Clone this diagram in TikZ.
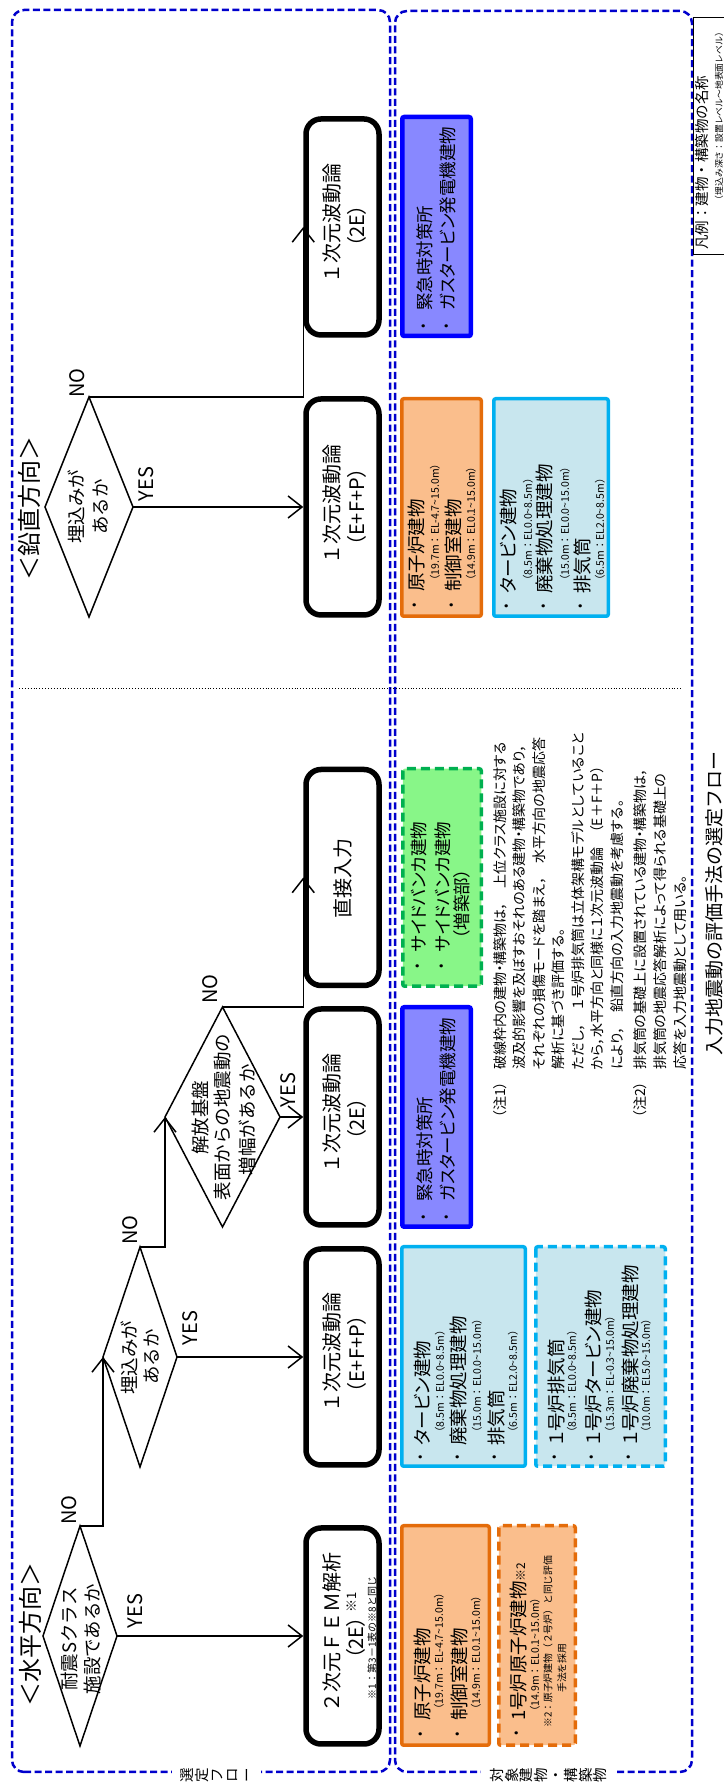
\documentclass[tikz,border=0pt]{standalone}
\usepackage{fontspec}
\setmainfont{Noto Sans CJK JP}[RawFeature=+palt]
\newfontfamily\jpmono{Noto Sans CJK JP}
\usetikzlibrary{arrows.meta,shapes.geometric}
\definecolor{frameblue}{RGB}{0,0,204}
\definecolor{orfill}{RGB}{250,190,140}
\definecolor{ordraw}{RGB}{228,108,10}
\definecolor{lbfill}{RGB}{200,230,238}
\definecolor{lbdraw}{RGB}{0,176,240}
\definecolor{bufill}{RGB}{136,136,255}
\definecolor{budraw}{RGB}{0,0,255}
\definecolor{grfill}{RGB}{136,246,136}
\definecolor{grdraw}{RGB}{0,176,80}
\newcommand{\myfs}[1]{\fontsize{#1}{#1}\selectfont}
\newcommand{\mytld}{\char"7E\relax}
\tikzset{
  outerframe/.style={draw=frameblue, line width=2.5pt, dash pattern=on 7pt off 3.5pt, rounded corners=12pt},
  flowbox/.style={draw=black, line width=5.5pt, rounded corners=15pt, minimum width=216pt, minimum height=73pt, inner sep=0pt},
  dia/.style={diamond, draw=black, line width=1.5pt, inner sep=0pt, outer sep=0pt},
  conn/.style={draw=black, line width=1.5pt, -{Straight Barb[length=14pt,width=22pt]}},
  yn/.style={inner sep=0pt, font=\myfs{20}},
  dtxt/.style={inner sep=0pt, font=\jpmono\myfs{18.5}},
  ftxt/.style={inner sep=0pt, font=\jpmono\myfs{20}},
  ftxtb/.style={inner sep=0pt, font=\myfs{20}},
  itm/.style={inner sep=0pt, anchor=west, font=\myfs{18.5}},
  itms/.style={inner sep=0pt, anchor=west, font=\myfs{17.5}},
  subt/.style={inner sep=0pt, anchor=west, font=\jpmono\myfs{10.5}},
  bul/.style={inner sep=0pt, font=\myfs{13}},
  notetxt/.style={inner sep=0pt, anchor=west, font=\myfs{14}},
  orbox/.style={fill=orfill, draw=ordraw, line width=3.5pt, rounded corners=2pt, inner sep=0pt},
  orboxd/.style={orbox, dash pattern=on 9pt off 5pt},
  lbbox/.style={fill=lbfill, draw=lbdraw, line width=3.5pt, rounded corners=2pt, inner sep=0pt},
  lbboxd/.style={lbbox, dash pattern=on 9pt off 5pt},
  bubox/.style={fill=bufill, draw=budraw, line width=4.5pt, rounded corners=2pt, inner sep=0pt},
  grbox/.style={fill=grfill, draw=grdraw, line width=3.5pt, rounded corners=2pt, inner sep=0pt, dash pattern=on 9pt off 5pt},
  framelbl/.style={fill=white, inner xsep=2pt, inner ysep=9pt, align=center, font=\fontsize{14.5}{14.8}\selectfont},
}
\begin{document}
\begin{tikzpicture}[x=1pt,y=1pt]
\useasboundingbox (0,0) rectangle (723,1786);
\begin{scope}[rotate=90, transform shape]
% outer frames
\draw[outerframe] (14,-12) rectangle (1776,-390);
\draw[outerframe] (14,-395) rectangle (1775,-692);
\node[framelbl] (lblA) at (11,-216.5) {選\\定\\フ\\ロ\\ー};
\node[framelbl] (lblB) at (11,-548.5) {対\\象\\建\\物\\・\\構\\築\\物};
% separator
\draw[dotted, line width=0.9pt] (1098,-19) -- (1098,-682);
% section titles
\node[inner sep=0pt, font=\jpmono\myfs{24}] (hsec) at (151,-30) {＜水平方向＞};
\node[inner sep=0pt, font=\jpmono\myfs{24}] (vsec) at (1277,-29) {＜鉛直方向＞};
% diamonds
\node[dia, minimum width=220pt, minimum height=74pt] (d1) at (150,-80) {};
\node[dia, minimum width=220pt, minimum height=74pt] (d2) at (429,-140) {};
\node[dia, minimum width=220pt, minimum height=115pt] (d3) at (669,-222.5) {};
\node[dia, minimum width=220pt, minimum height=88pt] (dv) at (1279,-89) {};
\node[dtxt] (d1a) at (147,-70) {耐震Sクラス};
\node[dtxt] (d1b) at (147,-92) {施設であるか};
\node[dtxt] (d2a) at (428,-129) {埋込みが};
\node[dtxt] (d2b) at (429,-152) {あるか};
\node[dtxt] (d3a) at (668,-200) {解放基盤};
\node[dtxt] (d3b) at (669,-223) {表面からの地震動の};
\node[dtxt] (d3c) at (666,-247) {増幅があるか};
\node[dtxt] (dva) at (1279,-76) {埋込みが};
\node[dtxt] (dvb) at (1279,-101) {あるか};
% flow boxes
\node[flowbox] (b1) at (150,-342.5) {};
\node[flowbox] (b2) at (429,-342.5) {};
\node[flowbox] (b3) at (669,-342.5) {};
\node[flowbox] (b4) at (908.5,-342.5) {};
\node[flowbox] (b5) at (1279,-342.5) {};
\node[flowbox] (b6) at (1559,-342.5) {};
\node[ftxt] (b1a) at (153,-332) {２次元ＦＥＭ解析};
\node[ftxtb] (b1b) at (148,-356) {（2E）};
\node[inner sep=0pt, anchor=west, font=\myfs{13}] (b1c) at (173,-352) {※1};
\node[inner sep=0pt, font=\jpmono\myfs{10}] (b1d) at (148,-372) {※1：第3－1表の※8と同じ};
\node[ftxt] (b2a) at (433,-332) {１次元波動論};
\node[ftxtb] (b2b) at (432,-357) {（E+F+P）};
\node[ftxt] (b3a) at (672,-332) {１次元波動論};
\node[ftxtb] (b3b) at (667,-357) {（2E）};
\node[ftxt] (b4a) at (907,-343) {直接入力};
\node[ftxt] (b5a) at (1281,-332) {１次元波動論};
\node[ftxtb] (b5b) at (1279,-357) {（E+F+P）};
\node[ftxt] (b6a) at (1562,-332) {１次元波動論};
\node[ftxtb] (b6b) at (1560,-357) {（2E）};
% connectors
\draw[conn] (d1.east) |- (d2.north);
\draw[conn] (d1.south) -- (b1.north);
\draw[conn] (d2.east) |- (d3.north);
\draw[conn] (d2.south) -- (b2.north);
\draw[conn] (d3.east) |- (b4.north);
\draw[conn] (d3.south) -- (b3.north);
\draw[conn] (dv.east) |- (b6.north);
\draw[conn] (dv.south) -- (b5.north);
\node[yn] (no1) at (276,-69) {NO};
\node[yn] (yes1) at (175,-135) {YES};
\node[yn] (no2) at (556,-130) {NO};
\node[yn] (yes2) at (458,-190) {YES};
\node[yn] (no3) at (797,-210) {NO};
\node[yn] (yes3) at (696,-288) {YES};
\node[yn] (nov) at (1403,-77) {NO};
\node[yn] (yesv) at (1302,-146) {YES};
% right side boxes
\node[orbox, minimum width=219.5pt, minimum height=87.5pt] (r1) at (150.5,-445.5) {};
\node[orboxd, minimum width=219.5pt, minimum height=76.5pt] (r2) at (150.5,-537) {};
\node[lbbox, minimum width=219.5pt, minimum height=123.5pt] (r3) at (429.5,-463.5) {};
\node[lbboxd, minimum width=219.5pt, minimum height=129.5pt] (r4) at (429.5,-600.5) {};
\node[bubox, minimum width=219.5pt, minimum height=68.5pt] (r5) at (669,-436.5) {};
\node[grbox, minimum width=217.5pt, minimum height=78.5pt] (r6) at (908.5,-442) {};
\node[bubox, minimum width=219pt, minimum height=68.5pt] (r7) at (1559.5,-436.5) {};
\node[orbox, minimum width=217.5pt, minimum height=79.5pt] (r8) at (1278.5,-441.5) {};
\node[lbbox, minimum width=217.5pt, minimum height=114.5pt] (r9) at (1278.5,-551) {};
% R1
\node[bul] (r1p1) at (52,-422) {•};
\node[itm] (r1t1) at (65,-422) {原子炉建物};
\node[subt] (r1s1) at (71,-439) {（19.7m：EL-4.7\mytld 15.0m）};
\node[bul] (r1p2) at (52,-459) {•};
\node[itm] (r1t2) at (65,-459) {制御室建物};
\node[subt] (r1s2) at (71,-476) {（14.9m：EL0.1\mytld 15.0m）};
% R2
\node[bul] (r2p1) at (53,-518) {•};
\node[itm] (r2t1) at (65,-518) {1号炉原子炉建物{\myfs{12}※2}};
\node[subt] (r2s1) at (69,-535) {（14.9m：EL0.1\mytld 15.0m）};
\node[inner sep=0pt, anchor=west, font=\jpmono\myfs{9.8}] (r2n1) at (58,-548) {※2：原子炉建物（２号炉）と同じ評価};
\node[inner sep=0pt, anchor=west, font=\jpmono\myfs{9.8}] (r2n2) at (93,-562) {手法を採用};
% R3
\node[bul] (r3p1) at (329,-422) {•};
\node[itm] (r3t1) at (340,-422) {タービン建物};
\node[subt] (r3s1) at (348,-440) {（8.5m：EL0.0\mytld 8.5m）};
\node[bul] (r3p2) at (329,-459) {•};
\node[itm] (r3t2) at (340,-459) {廃棄物処理建物};
\node[subt] (r3s2) at (348,-477) {（15.0m：EL0.0\mytld 15.0m）};
\node[bul] (r3p3) at (329,-496) {•};
\node[itm] (r3t3) at (340,-496) {排気筒};
\node[subt] (r3s3) at (348,-513) {（6.5m：EL2.0\mytld 8.5m）};
% R4
\node[bul] (r4p1) at (329,-556) {•};
\node[itm] (r4t1) at (340,-556) {１号炉排気筒};
\node[subt] (r4s1) at (348,-572) {（8.5m：EL0.0\mytld 8.5m）};
\node[bul] (r4p2) at (329,-593) {•};
\node[itm] (r4t2) at (340,-593) {１号炉タービン建物};
\node[subt] (r4s2) at (348,-610) {（15.3m：EL-0.3\mytld 15.0m）};
\node[bul] (r4p3) at (329,-630) {•};
\node[itm] (r4t3) at (340,-630) {１号炉廃棄物処理建物};
\node[subt] (r4s3) at (348,-646) {（10.0m：EL5.0\mytld 15.0m）};
% R5
\node[bul] (r5p1) at (569,-425) {•};
\node[itms] (r5t1) at (584,-425) {緊急時対策所};
\node[bul] (r5p2) at (569,-448) {•};
\node[itms] (r5t2) at (584,-448) {ガスタービン発電機建物};
% R6
\node[bul] (r6p1) at (820,-419) {•};
\node[itms] (r6t1) at (834,-419) {サイドバンカ建物};
\node[bul] (r6p2) at (820,-443) {•};
\node[itms] (r6t2) at (834,-443) {サイドバンカ建物};
\node[inner sep=0pt, font=\myfs{17.5}] (r6t3) at (882,-462) {（増築部）};
% R7
\node[bul] (r7p1) at (1460,-425) {•};
\node[itms] (r7t1) at (1475,-425) {緊急時対策所};
\node[bul] (r7p2) at (1460,-448) {•};
\node[itms] (r7t2) at (1475,-448) {ガスタービン発電機建物};
% R8
\node[bul] (r8p1) at (1181,-416) {•};
\node[itm] (r8t1) at (1194,-416) {原子炉建物};
\node[subt] (r8s1) at (1200,-435) {（19.7m：EL-4.7\mytld 15.0m）};
\node[bul] (r8p2) at (1181,-453) {•};
\node[itm] (r8t2) at (1194,-453) {制御室建物};
\node[subt] (r8s2) at (1200,-471) {（14.9m：EL0.1\mytld 15.0m）};
% R9
\node[bul] (r9p1) at (1180,-508) {•};
\node[itm] (r9t1) at (1192,-508) {タービン建物};
\node[subt] (r9s1) at (1200,-528) {（8.5m：EL0.0\mytld 8.5m）};
\node[bul] (r9p2) at (1180,-545) {•};
\node[itm] (r9t2) at (1192,-545) {廃棄物処理建物};
\node[subt] (r9s2) at (1200,-565) {（15.0m：EL0.0\mytld 15.0m）};
\node[bul] (r9p3) at (1180,-582) {•};
\node[itm] (r9t3) at (1192,-582) {排気筒};
\node[subt] (r9s3) at (1200,-600) {（6.5m：EL2.0\mytld 8.5m）};
% notes
\node[notetxt] (n1h) at (668,-500) {（注1）};
\node[notetxt] (n1l1) at (716,-500) {破線枠内の建物・構築物は，　上位クラス施設に対する};
\node[notetxt] (n1l2) at (716,-519.5) {波及的影響を及ぼすおそれのある建物・構築物であり，};
\node[notetxt] (n1l3) at (716,-539) {それぞれの損傷モードを踏まえ，　水平方向の地震応答};
\node[notetxt] (n1l4) at (716,-558.5) {解析に基づき評価する。};
\node[notetxt] (n1l5) at (716,-578) {ただし，　１号炉排気筒は立体架構モデルとしていること};
\node[notetxt] (n1l6) at (716,-597.5) {から，水平方向と同様に１次元波動論　（E＋F＋P）};
\node[notetxt] (n1l7) at (716,-617) {により，　鉛直方向の入力地震動を考慮する。};
\node[notetxt] (n2h) at (668,-640) {（注2）};
\node[notetxt] (n2l1) at (716,-640) {排気筒の基礎上に設置されている建物・構築物は，};
\node[notetxt] (n2l2) at (716,-660) {排気筒の地震応答解析によって得られる基礎上の};
\node[notetxt] (n2l3) at (716,-680) {応答を入力地震動として用いる。};
% title
\node[inner sep=0pt, font=\jpmono\myfs{19}] (title) at (882,-714) {入力地震動の評価手法の選定フロー};
% legend
\node[draw=black, line width=1.2pt, minimum width=237pt, minimum height=53pt, anchor=north west, inner sep=0pt] (leg) at (1531,-693) {};
\node[inner sep=0pt, anchor=west, font=\jpmono\myfs{14.5}] (leg1) at (1536,-701.5) {凡例：建物・構築物の名称};
\node[inner sep=0pt, anchor=east, font=\jpmono\myfs{8.8}] (leg2) at (1758,-719) {（埋込み深さ：設置レベル～地表面レベル）};
\end{scope}
\end{tikzpicture}
\end{document}
